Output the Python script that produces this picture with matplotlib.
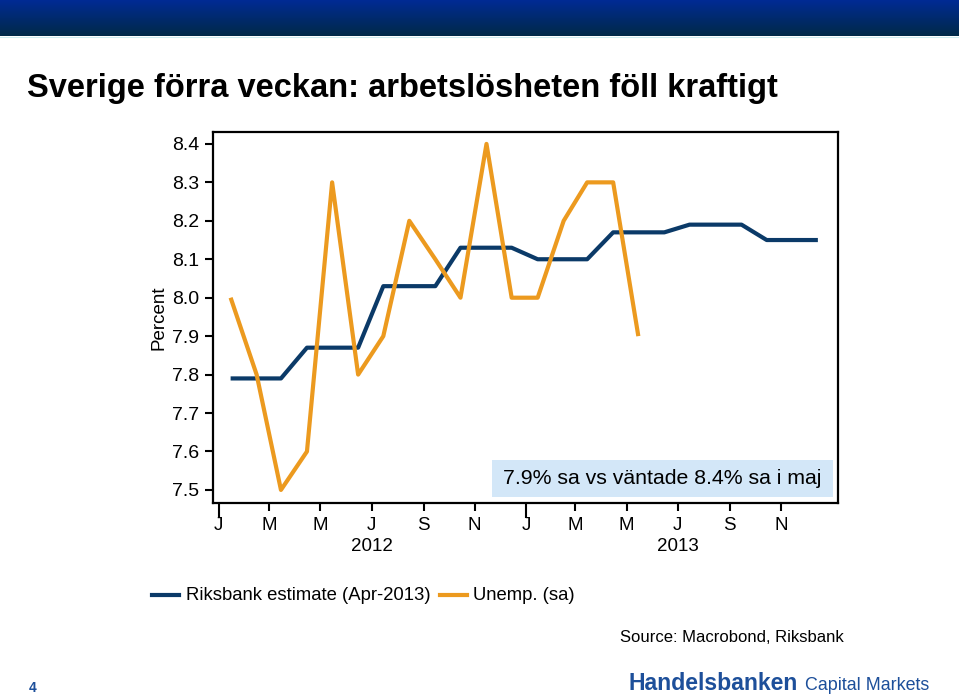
import numpy as np
import matplotlib
matplotlib.use('Agg')
import matplotlib.pyplot as plt
import matplotlib.dates as mdates
from matplotlib.patches import Rectangle
from datetime import date

plt.rcParams['font.family'] = ['Liberation Sans', 'DejaVu Sans']

# Data (monthly, plotted mid-month)
riksbank_months = [date(2012 + (m // 12), m % 12 + 1, 15) for m in range(24)]
riksbank = [7.79, 7.79, 7.79, 7.87, 7.87, 7.87, 8.03, 8.03, 8.03, 8.13, 8.13, 8.13,
            8.10, 8.10, 8.10, 8.17, 8.17, 8.17, 8.19, 8.19, 8.19, 8.15, 8.15, 8.15]
unemp_months = riksbank_months[:17]
unemp = [8.0, 7.8, 7.5, 7.6, 8.3, 7.8, 7.9, 8.2, 8.1, 8.0, 8.4, 8.0,
         8.0, 8.2, 8.3, 8.3, 7.9]

yticks = [7.5, 7.6, 7.7, 7.8, 7.9, 8.0, 8.1, 8.2, 8.3, 8.4]
tick_months = [date(y, m, 1) for y in (2012, 2013) for m in (1, 3, 5, 7, 9, 11)]
tick_labels = ['J', 'M', 'M', 'J', 'S', 'N'] * 2
years = ['2012', '2013']

BLUE = '#0b3a68'
ORANGE = '#ec9a1f'
W, H = 959, 700

fig = plt.figure(figsize=(W / 100, H / 100), dpi=100)

def fx(px):
    return px / W

def fy(py):
    return 1 - py / H

# top gradient band
band = fig.add_axes([0, fy(36), 1, 36 / H])
grad = np.linspace(0, 1, 50)[:, None]
top = np.array([0x00, 0x2b, 0x94]) / 255
bot = np.array([0x00, 0x29, 0x48]) / 255
img = top[None, None, :] * (1 - grad[:, :, None]) + bot[None, None, :] * grad[:, :, None]
band.imshow(img, aspect='auto', extent=[0, 1, 0, 1])
band.axis('off')
fig.add_artist(plt.Line2D([0, 1], [fy(36.5), fy(36.5)], color='#cfeef0', linewidth=0.8))

fig.text(fx(27), fy(88), 'Sverige förra veckan: arbetslösheten föll kraftigt',
         fontsize=23.5, fontweight='bold', va='center', ha='left', color='black')

ax = fig.add_axes([fx(213), fy(503), fx(838 - 213), (503 - 132) / H])
x_r = mdates.date2num(riksbank_months)
x_u = mdates.date2num(unemp_months)
ax.plot(x_r, riksbank, color=BLUE, linewidth=3, solid_capstyle='butt', zorder=3)
ax.plot(x_u, unemp, color=ORANGE, linewidth=3, solid_capstyle='butt', zorder=4)

ax.set_xlim(mdates.date2num(date(2011, 12, 25)), mdates.date2num(date(2014, 1, 8)))
ax.set_ylim(7.466, 8.431)
ax.set_yticks(yticks)
ax.set_yticklabels([f'{v:.1f}' for v in yticks])
ax.tick_params(axis='y', direction='out', length=6, width=1.5, labelsize=14, pad=4)

xt = mdates.date2num(tick_months)
ax.set_xticks(xt)
ax.set_xticklabels(tick_labels)
ax.tick_params(axis='x', direction='out', length=6, width=1.5, labelsize=13.5, pad=4)
for t, d in zip(ax.xaxis.get_major_ticks(), tick_months):
    if d.month == 1:
        t.tick1line.set_markersize(11)

for yr, lbl in zip((2012, 2013), years):
    ax.text(mdates.date2num(date(yr, 7, 1)), -0.093, lbl, transform=ax.get_xaxis_transform(),
            ha='center', va='top', fontsize=13.5)

for s in ax.spines.values():
    s.set_linewidth(1.6)
    s.set_color('black')

ax.set_ylabel('Percent', fontsize=13.5, labelpad=3)

# annotation box
x0 = (492 - 213) / (838 - 213)
x1 = (833 - 213) / (838 - 213)
y0 = (503 - 497) / (503 - 132)
y1 = (503 - 460) / (503 - 132)
ax.add_patch(Rectangle((x0, y0), x1 - x0, y1 - y0, transform=ax.transAxes,
                       facecolor='#d3e7f8', edgecolor='none', zorder=5))
ax.text((x0 + x1) / 2, (y0 + y1) / 2, '7.9% sa vs väntade 8.4% sa i maj',
        transform=ax.transAxes, ha='center', va='center', fontsize=15.3, zorder=6)

# legend
fig.add_artist(plt.Line2D([fx(152), fx(179)], [fy(595), fy(595)], color=BLUE, linewidth=3))
fig.text(fx(186), fy(595), 'Riksbank estimate (Apr-2013)', fontsize=13.3, va='center')
fig.add_artist(plt.Line2D([fx(440), fx(467)], [fy(595), fy(595)], color=ORANGE, linewidth=3))
fig.text(fx(473), fy(595), 'Unemp. (sa)', fontsize=13.3, va='center')

fig.text(fx(620), fy(638), 'Source: Macrobond, Riksbank', fontsize=12, va='center')
fig.text(fx(628), fy(684), 'Handelsbanken', fontsize=16.6, fontweight='bold',
         color='#1d4f9a', va='center')
fig.text(fx(805), fy(685), 'Capital Markets', fontsize=12.9, color='#1d4f9a', va='center')
fig.text(fx(29), fy(688), '4', fontsize=10, fontweight='bold', color='#1d4f9a', va='center')

fig.savefig('out.png', dpi=100)
